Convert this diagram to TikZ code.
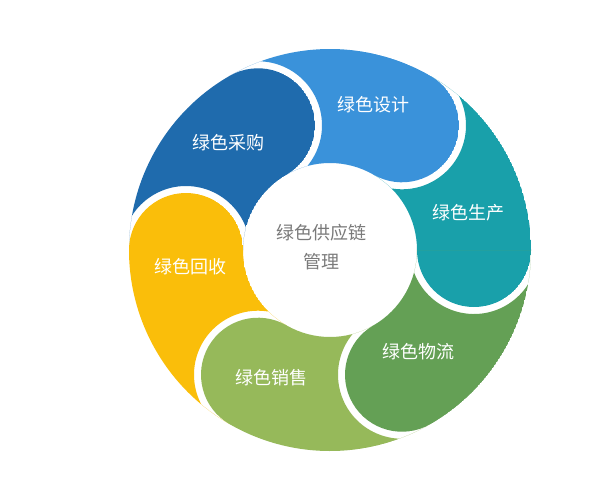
\documentclass[tikz,border=0pt]{standalone}
\usepackage{fontspec}
\newfontfamily\cjk{Noto Sans CJK SC}
\definecolor{cDesign}{HTML}{3A92DA}
\definecolor{cBuy}{HTML}{1F6BAD}
\definecolor{cRecycle}{HTML}{FABE0A}
\definecolor{cSale}{HTML}{96B95A}
\definecolor{cLogi}{HTML}{64A055}
\definecolor{cProd}{HTML}{19A0AA}
\definecolor{cCore}{HTML}{7A7A7A}
\newcommand\mypetal[2]{%
  \begin{scope}[shift={(C)},rotate=#1]
    \clip[petalshape];
    \fill[#2,even odd rule,petalshape] (60:144pt) circle[radius=64pt];
  \end{scope}}
\begin{document}
\begin{tikzpicture}[x=1pt,y=1pt,
  petalshape/.style={insert path={(60:201pt) arc[start angle=60,end angle=0,radius=201pt]
     arc[start angle=0,end angle=-180,radius=57pt]
     arc[start angle=0,end angle=60,radius=87pt] -- cycle}},
  lbl/.style={text=white,font=\cjk\fontsize{18}{20}\selectfont,inner sep=0pt},
  corelbl/.style={text=cCore,font=\cjk\fontsize{18}{29}\selectfont,align=center,inner sep=0pt}]
\useasboundingbox (0,0) rectangle (595,-491);
\fill[white] (0,0) rectangle (595,-491);
\coordinate (C) at (330,-250);
\mypetal{0}{cProd}
\mypetal{60}{cDesign}
\mypetal{120}{cBuy}
\mypetal{180}{cRecycle}
\mypetal{240}{cSale}
\mypetal{300}{cLogi}
\node[lbl] (design) at (373,-105) {绿色设计};
\node[lbl] (buy) at (228,-143) {绿色采购};
\node[lbl] (prod) at (468,-213) {绿色生产};
\node[lbl] (recycle) at (190,-267) {绿色回收};
\node[lbl] (logi) at (418,-352) {绿色物流};
\node[lbl] (sale) at (271,-378) {绿色销售};
\node[corelbl] (core) at (321,-247) {绿色供应链\\管理};
\end{tikzpicture}
\end{document}
